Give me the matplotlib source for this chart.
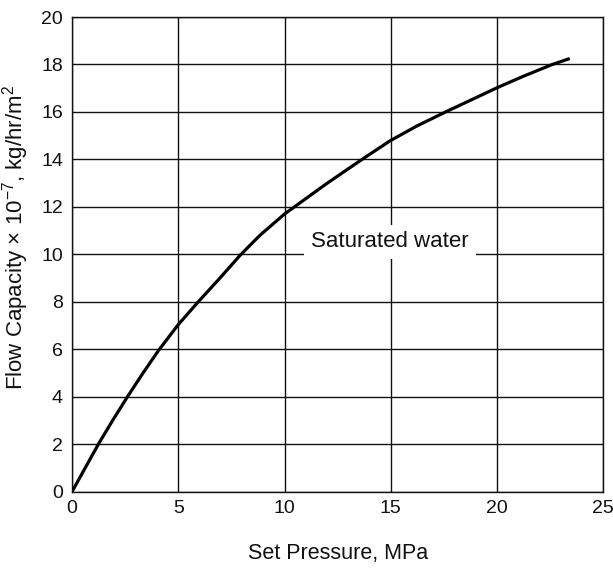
import matplotlib
matplotlib.use("Agg")
import matplotlib.pyplot as plt

plt.rcParams['font.family'] = ['Liberation Sans', 'DejaVu Sans']
plt.rcParams['mathtext.fontset'] = 'custom'
plt.rcParams['mathtext.rm'] = 'Liberation Sans'
plt.rcParams['mathtext.it'] = 'Liberation Sans:italic'
plt.rcParams['mathtext.bf'] = 'Liberation Sans:bold'

# Data
pressure = [0, 0.62, 1.24, 1.91, 2.61, 3.32, 4.07, 5.0, 5.94, 6.96, 7.91, 8.84,
            10.0, 10.45, 11.98, 13.63, 14.96, 16.21, 17.58, 18.72, 20.0, 21.23,
            22.6, 23.42]
flow = [0, 1, 2, 3, 4, 4.97, 5.95, 7.04, 8, 9.0, 9.96, 10.8,
        11.7, 11.99, 12.98, 13.99, 14.78, 15.4, 16.0, 16.48, 17.02, 17.5,
        18.0, 18.25]
x_ticks = [0, 5, 10, 15, 20, 25]
y_ticks = [0, 2, 4, 6, 8, 10, 12, 14, 16, 18, 20]
curve_label = "Saturated water"
label_pos = (14.96, 10.29)

fig = plt.figure(figsize=(6.13, 5.7), dpi=100)
ax = fig.add_axes([72/613, 1 - 491.7/570, (603.3 - 72)/613, (491.7 - 17)/570])

ax.set_xlim(0, 25)
ax.set_ylim(0, 20)
ax.set_xticks(x_ticks)
ax.set_yticks(y_ticks)
ax.grid(True, color='#111111', linewidth=1.0)
ax.set_axisbelow(True)
for s in ax.spines.values():
    s.set_color('#111111')
    s.set_linewidth(1.0)
ax.tick_params(length=0, labelsize=14, colors='#111111')
ax.tick_params(axis='x', pad=6)
ax.tick_params(axis='y', pad=6.5)

ax.plot(pressure, flow, color='black', linewidth=2.3, solid_joinstyle='round',
        solid_capstyle='butt', zorder=3)

ax.text(label_pos[0], label_pos[1], curve_label, fontsize=16, ha='center', va='baseline',
        color='#111111', zorder=4,
        bbox=dict(facecolor='white', edgecolor='none', pad=5))

ax.set_xlabel("Set Pressure, MPa", fontsize=15.5, color='#111111')
ax.xaxis.set_label_coords(0.5, -0.108)
ax.set_ylabel(r"Flow Capacity × 10$^{-7}$, kg/hr/m$^{2}$", fontsize=16, color='#111111')
ax.yaxis.set_label_coords(-0.077, 0.535)

fig.savefig("out.png", dpi=100)
